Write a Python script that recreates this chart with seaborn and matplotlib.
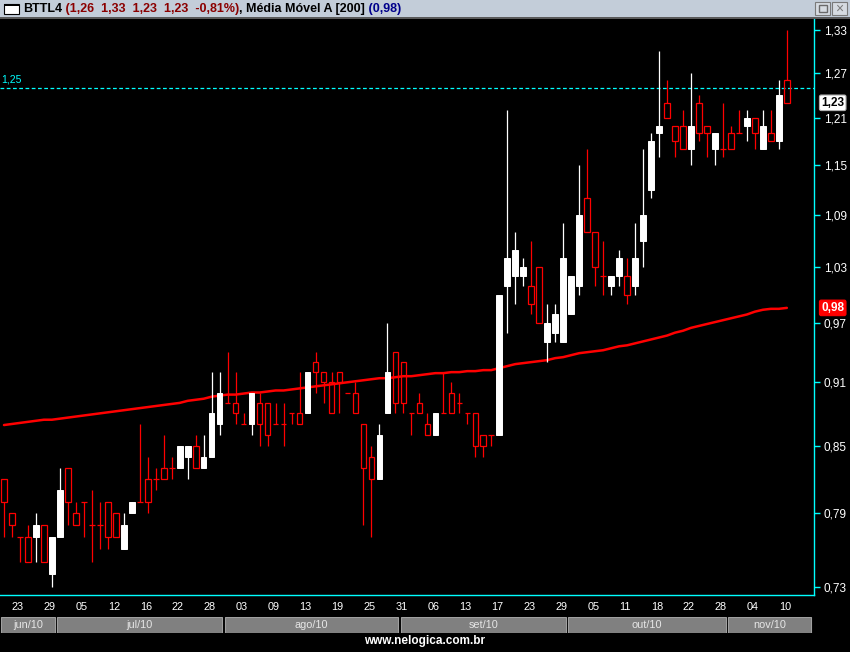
'''
Candlestick chart of BTTL4 with a 200 day moving average (ProfitChart style).
'''

import numpy as np
import pandas as pd
import matplotlib
matplotlib.use('Agg')
import matplotlib.pyplot as plt
import matplotlib.transforms as mtransforms
from matplotlib.patches import Rectangle
from matplotlib.ticker import NullLocator
import seaborn as sns

# Daily prices (22 jun 2010 - 11 nov 2010)
opens = [0.82, 0.79, 0.77, 0.77, 0.77, 0.78, 0.74, 0.77, 0.83, 0.79,
         0.80, 0.78, 0.78, 0.80, 0.79, 0.76, 0.79, 0.80, 0.82, 0.82,
         0.83, 0.83, 0.83, 0.84, 0.85, 0.83, 0.84, 0.87, 0.89, 0.89,
         0.87, 0.87, 0.89, 0.89, 0.87, 0.87, 0.88, 0.88, 0.88, 0.93,
         0.92, 0.91, 0.92, 0.90, 0.90, 0.87, 0.84, 0.82, 0.88, 0.94,
         0.93, 0.88, 0.89, 0.87, 0.86, 0.88, 0.90, 0.89, 0.88, 0.88,
         0.86, 0.86, 0.86, 1.01, 1.02, 1.02, 1.01, 1.03, 0.95, 0.96,
         0.95, 0.98, 1.01, 1.11, 1.07, 1.02, 1.01, 1.02, 1.02, 1.01,
         1.06, 1.12, 1.19, 1.23, 1.20, 1.20, 1.17, 1.23, 1.20, 1.17,
         1.17, 1.19, 1.19, 1.20, 1.21, 1.17, 1.19, 1.18, 1.26]
highs = [0.82, 0.79, 0.77, 0.78, 0.79, 0.78, 0.77, 0.83, 0.83, 0.80,
         0.80, 0.81, 0.80, 0.80, 0.79, 0.79, 0.80, 0.87, 0.84, 0.83,
         0.86, 0.84, 0.85, 0.85, 0.86, 0.86, 0.92, 0.92, 0.94, 0.92,
         0.88, 0.90, 0.90, 0.89, 0.89, 0.89, 0.88, 0.92, 0.92, 0.94,
         0.92, 0.92, 0.92, 0.90, 0.91, 0.87, 0.85, 0.87, 0.97, 0.94,
         0.93, 0.88, 0.90, 0.88, 0.88, 0.92, 0.91, 0.90, 0.88, 0.88,
         0.86, 0.86, 1.00, 1.22, 1.07, 1.04, 1.06, 1.03, 0.99, 0.99,
         1.08, 1.02, 1.15, 1.17, 1.07, 1.06, 1.02, 1.05, 1.04, 1.08,
         1.17, 1.19, 1.30, 1.26, 1.20, 1.22, 1.27, 1.24, 1.20, 1.19,
         1.23, 1.20, 1.22, 1.22, 1.21, 1.22, 1.22, 1.26, 1.33]
lows = [0.77, 0.77, 0.75, 0.75, 0.75, 0.75, 0.73, 0.77, 0.78, 0.78,
        0.77, 0.75, 0.76, 0.76, 0.77, 0.76, 0.79, 0.80, 0.79, 0.81,
        0.82, 0.82, 0.83, 0.82, 0.83, 0.83, 0.84, 0.86, 0.89, 0.87,
        0.87, 0.86, 0.85, 0.85, 0.87, 0.85, 0.87, 0.87, 0.88, 0.90,
        0.89, 0.88, 0.88, 0.90, 0.88, 0.78, 0.77, 0.82, 0.88, 0.88,
        0.88, 0.86, 0.88, 0.86, 0.86, 0.88, 0.88, 0.88, 0.87, 0.84,
        0.84, 0.85, 0.86, 0.96, 0.99, 1.01, 0.98, 0.97, 0.93, 0.95,
        0.95, 0.98, 1.00, 1.07, 1.01, 1.00, 1.00, 1.01, 0.99, 1.00,
        1.03, 1.11, 1.16, 1.21, 1.16, 1.17, 1.15, 1.18, 1.16, 1.15,
        1.16, 1.17, 1.19, 1.18, 1.17, 1.17, 1.18, 1.17, 1.23]
closes = [0.80, 0.78, 0.77, 0.75, 0.78, 0.75, 0.77, 0.81, 0.80, 0.78,
          0.80, 0.78, 0.78, 0.77, 0.77, 0.78, 0.80, 0.80, 0.80, 0.82,
          0.82, 0.83, 0.85, 0.85, 0.83, 0.84, 0.88, 0.90, 0.89, 0.88,
          0.87, 0.90, 0.87, 0.86, 0.87, 0.87, 0.88, 0.87, 0.92, 0.92,
          0.91, 0.88, 0.91, 0.90, 0.88, 0.83, 0.82, 0.86, 0.92, 0.89,
          0.89, 0.88, 0.88, 0.86, 0.88, 0.88, 0.88, 0.89, 0.88, 0.85,
          0.85, 0.86, 1.00, 1.04, 1.05, 1.03, 0.99, 0.97, 0.97, 0.98,
          1.04, 1.02, 1.09, 1.07, 1.03, 1.02, 1.02, 1.04, 1.00, 1.04,
          1.09, 1.18, 1.20, 1.21, 1.18, 1.17, 1.20, 1.19, 1.19, 1.19,
          1.17, 1.17, 1.19, 1.21, 1.19, 1.20, 1.18, 1.24, 1.23]

# Média Móvel A [200]
ma200 = [0.869, 0.870, 0.871, 0.872, 0.873, 0.874, 0.874, 0.875, 0.876, 0.877,
         0.878, 0.879, 0.880, 0.881, 0.882, 0.883, 0.884, 0.885, 0.886, 0.887,
         0.888, 0.889, 0.890, 0.892, 0.893, 0.894, 0.896, 0.897, 0.898, 0.898,
         0.899, 0.900, 0.900, 0.901, 0.902, 0.902, 0.903, 0.904, 0.905, 0.906,
         0.907, 0.908, 0.909, 0.910, 0.911, 0.912, 0.913, 0.914, 0.914, 0.915,
         0.916, 0.916, 0.917, 0.918, 0.919, 0.919, 0.920, 0.920, 0.921, 0.921,
         0.922, 0.922, 0.924, 0.926, 0.928, 0.929, 0.930, 0.931, 0.932, 0.934,
         0.935, 0.937, 0.939, 0.940, 0.941, 0.942, 0.944, 0.946, 0.947, 0.949,
         0.951, 0.953, 0.955, 0.957, 0.960, 0.962, 0.965, 0.967, 0.969, 0.971,
         0.973, 0.975, 0.977, 0.979, 0.982, 0.984, 0.985, 0.985, 0.986]

holidays = ['2010-07-09', '2010-09-07', '2010-10-12', '2010-11-02']
month_names = {6: 'jun', 7: 'jul', 8: 'ago', 9: 'set', 10: 'out', 11: 'nov'}
price_ticks = [0.73, 0.79, 0.85, 0.91, 0.97, 1.03, 1.09, 1.15, 1.21, 1.27, 1.33]
alert_level = 1.25
last_close = 1.23

title_parts = [('BTTL4', 'black'),
               (' (1,26  1,33  1,23  1,23  -0,81%)', '#8b0000'),
               (', Média Móvel A [200]', 'black'),
               (' (0,98)', '#00008b')]

# Figure geometry in pixels
W, H = 850, 652
CYAN = '#00ffff'
RED = '#ff0000'


def fx(px):
    return px / W


def fy(py):
    return 1 - py / H


def px_rect(fig, x0, y0, x1, y1, **kw):
    fig.add_artist(Rectangle((fx(x0), fy(y1)), fx(x1 - x0), (y1 - y0) / H,
                             transform=fig.transFigure, **kw))


sns.set_style('dark', {'axes.facecolor': 'black', 'figure.facecolor': 'black'})
plt.rcParams['font.family'] = ['Liberation Sans', 'DejaVu Sans']

dates = pd.bdate_range('2010-06-22', '2010-11-11', freq='C', holidays=holidays)
o = np.array(opens)
h = np.array(highs)
l = np.array(lows)
c = np.array(closes)
x = np.arange(len(o))

fig = plt.figure(figsize=(W / 100, H / 100), dpi=100, facecolor='black')
ax = fig.add_axes([0, fy(595), fx(814), (595 - 19) / H])
ax.set_facecolor('black')
ax.set_yscale('log')
xmin, xmax = -0.5, 101.4
ax.set_xlim(xmin, xmax)
ax.set_ylim(0.7235, 1.3463)

# moving average under the candles
sns.lineplot(x=x, y=ma200, ax=ax, color=RED, linewidth=1.8, zorder=2)

# candles
bw = 0.7
up = c > o
down = c < o
doji = c == o
lo_b = np.minimum(o, c)
hi_b = np.maximum(o, c)

ax.vlines(x[up], l[up], h[up], color='white', linewidth=0.9, zorder=3)
ax.bar(x[up], hi_b[up] - lo_b[up], bottom=lo_b[up], width=bw,
       color='white', edgecolor='white', linewidth=0.7, zorder=4)

ax.vlines(x[down], l[down], lo_b[down], color=RED, linewidth=0.9, zorder=3)
ax.vlines(x[down], hi_b[down], h[down], color=RED, linewidth=0.9, zorder=3)
ax.bar(x[down], hi_b[down] - lo_b[down], bottom=lo_b[down], width=bw,
       facecolor='none', edgecolor=RED, linewidth=0.9, zorder=4)

ax.vlines(x[doji], l[doji], h[doji], color=RED, linewidth=0.9, zorder=3)
ax.hlines(o[doji], x[doji] - bw / 2, x[doji] + bw / 2, color=RED, linewidth=0.9, zorder=4)

# alert line at 1,25
ax.axhline(alert_level, color=CYAN, linewidth=0.9, linestyle=(0, (3, 2)), zorder=1)
trans = mtransforms.blended_transform_factory(ax.transAxes, ax.transData)
ax.text(0.002, alert_level * 1.004, '1,25', transform=trans, color=CYAN,
        fontsize=7.5, ha='left', va='bottom')

# axes styling
for side in ['top', 'left']:
    ax.spines[side].set_visible(False)
for side in ['right', 'bottom']:
    ax.spines[side].set_visible(True)
    ax.spines[side].set_color(CYAN)
    ax.spines[side].set_linewidth(1)
ax.grid(False)

ax.yaxis.tick_right()
ax.set_yticks(price_ticks)
ax.set_yticklabels([f'{v:.2f}'.replace('.', ',') for v in price_ticks])
ax.yaxis.set_minor_locator(NullLocator())
ax.tick_params(axis='y', which='major', direction='out', length=4, width=1,
               color=CYAN, labelcolor='white', labelsize=8.5, pad=3)

tick_idx = list(range(1, len(dates), 4))
ax.set_xticks(tick_idx)
ax.set_xticklabels([dates[i].strftime('%d') for i in tick_idx])
ax.tick_params(axis='x', direction='out', length=3, width=1, color=CYAN,
               labelcolor='white', labelsize=7.8, pad=2)
for lab in ax.get_xticklabels():
    lab.set_horizontalalignment('left')
ax.set_xlabel('')
ax.set_ylabel('')

# value boxes on the price scale
ax.text(1.023, last_close, '1,23', transform=trans, color='black', fontsize=8.5,
        fontweight='bold', ha='center', va='center', clip_on=False,
        bbox=dict(boxstyle='round,pad=0.15', fc='white', ec='#b0b0b0', lw=0.8))
ax.text(1.023, ma200[-1], '0,98', transform=trans, color='white', fontsize=8.5,
        fontweight='bold', ha='center', va='center', clip_on=False,
        bbox=dict(boxstyle='round,pad=0.15', fc=RED, ec=RED, lw=0.8))

# month bar
ax_m = fig.add_axes([0, fy(633), fx(814), 16 / H])
ax_m.set_xlim(xmin, xmax)
ax_m.set_ylim(0, 1)
ax_m.axis('off')
months = dates.month
edges = [xmin] + [i - 0.5 for i in range(1, len(dates)) if months[i] != months[i - 1]] + [xmax - 0.2]
labels = [f'{month_names[months[0]]}/10'] + \
         [f'{month_names[months[i]]}/10' for i in range(1, len(dates)) if months[i] != months[i - 1]]
for s, e, lab in zip(edges[:-1], edges[1:], labels):
    ax_m.add_patch(Rectangle((s + 0.15, 0.02), e - s - 0.3, 0.96,
                             facecolor='#808080', edgecolor='#a0a0a0', linewidth=0.8))
    ax_m.text((s + e) / 2, 0.47, lab, color='#e6e6e6', fontsize=7.8,
              ha='center', va='center')

# window title bar
px_rect(fig, 0, 0, W, 17, facecolor='#c3cdd9', edgecolor='none')
px_rect(fig, 0, 17, W, 19, facecolor='#5a5a5a', edgecolor='none')
px_rect(fig, 4, 4, 19, 14, facecolor='white', edgecolor='black', linewidth=0.8)
px_rect(fig, 4, 4, 19, 6, facecolor='black', edgecolor='none')
for bx in [815, 832]:
    px_rect(fig, bx, 2, bx + 15, 15, facecolor='#d6dbe1', edgecolor='#7a7a7a', linewidth=0.8)
px_rect(fig, 819, 5, 827, 12, facecolor='none', edgecolor='#6a6a6a', linewidth=1.0)
fig.text(fx(839.5), fy(8.5), '×', color='#7a7a7a', fontsize=10,
         ha='center', va='center')

renderer = fig.canvas.get_renderer()
xpos = fx(23)
for txt, col in title_parts:
    t = fig.text(xpos, fy(9), txt, color=col, fontsize=9, fontweight='bold',
                 ha='left', va='center')
    bb = t.get_window_extent(renderer)
    xpos = bb.x1 / fig.bbox.width

fig.text(fx(425), fy(641), 'www.nelogica.com.br', color='white', fontsize=8.5,
         fontweight='bold', ha='center', va='center')

fig.savefig('out.png', dpi=100, facecolor='black')
